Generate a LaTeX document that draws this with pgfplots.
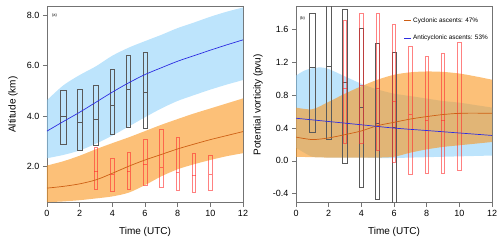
\documentclass[border=0pt]{standalone}
\usepackage{fontspec}
\setmainfont{Liberation Sans}
\usepackage{pgfplots}
\pgfplotsset{compat=1.18}
\usepgfplotslibrary{fillbetween,statistics}

\definecolor{bandblue}{RGB}{135,206,250}
\definecolor{bandorange}{RGB}{250,150,30}
\definecolor{lineblue}{RGB}{45,45,225}
\definecolor{lineorange}{RGB}{205,95,20}
\definecolor{boxred}{RGB}{255,45,45}

\pgfplotsset{
  panel/.style={
    width=196pt, height=196pt, scale only axis,
    xmin=0, xmax=12, xtick={0,2,...,12},
    tick align=outside, tick pos=left,
    major tick length=4pt,
    axis line style={draw=black!55, line width=0.6pt},
    every tick/.style={draw=black!55, line width=0.6pt},
    tick label style={font=\fontsize{9}{10}\selectfont},
    label style={font=\fontsize{10.5}{12}\selectfont},
    /pgf/number format/assume math mode=true,
    yticklabel style={/pgf/number format/fixed, /pgf/number format/fixed zerofill, /pgf/number format/precision=1},
    xlabel={Time (UTC)},
    every axis x label/.style={at={(axis description cs:0.5,-0.148)}, anchor=center},
    boxplot/draw direction=y,
  },
  blackbox/.style={draw=black!65, line width=0.45pt, solid, mark=none, forget plot},
  redbox/.style={draw=boxred, draw opacity=0.6, line width=0.5pt, solid, mark=none, forget plot},
}
% box: position, lower, median, upper, width
\newcommand{\bbox}[5]{\addplot[blackbox, boxplot prepared={draw direction=y, draw position=#1, lower whisker=#2, lower quartile=#2, median=#3, upper quartile=#4, upper whisker=#4, box extend=#5, whisker extend=0}] coordinates {};}
\newcommand{\rbox}[5]{\addplot[redbox, boxplot prepared={draw direction=y, draw position=#1, lower whisker=#2, lower quartile=#2, median=#3, upper quartile=#4, upper whisker=#4, box extend=#5, whisker extend=0}] coordinates {};}

\begin{document}
\begin{tikzpicture}
% ---------------- (a) altitude ----------------
\begin{axis}[panel,
  ymin=0.55, ymax=8.35, ytick={2,4,6,8},
  ylabel={Altitude (km)},
  every axis y label/.style={at={(axis description cs:-0.173,0.5)}, rotate=90, anchor=center},
]
\addplot[name path=AU, draw=none, smooth, forget plot] coordinates {(0,4.63)(1,5.22)(2,5.63)(3,5.98)(4,6.4)(5,6.72)(6,6.98)(7,7.23)(8,7.5)(9,7.72)(10,7.95)(11,8.15)(12,8.32)};
\addplot[name path=AL, draw=none, smooth, forget plot] coordinates {(0,2.32)(1,2.45)(2,2.63)(3,2.9)(4,3.22)(5,3.58)(6,3.95)(7,4.3)(8,4.6)(9,4.83)(10,5.05)(11,5.25)(12,5.43)};
\addplot[bandblue, fill opacity=0.55, draw=none, forget plot] fill between[of=AU and AL];
\addplot[name path=CU, draw=none, smooth, forget plot] coordinates {(0,2.03)(1,2.2)(2,2.42)(3,2.68)(4,2.92)(5,3.15)(6,3.4)(7,3.65)(8,3.88)(9,4.1)(10,4.3)(11,4.5)(12,4.7)};
\addplot[name path=CL, draw=none, smooth, forget plot] coordinates {(0,0.57)(1,0.6)(2,0.65)(3,0.72)(4,0.8)(5,0.95)(6,1.25)(7,1.6)(8,1.88)(9,2.08)(10,2.25)(11,2.4)(12,2.52)};
\addplot[bandorange, fill opacity=0.6, draw=none, forget plot] fill between[of=CU and CL];
% anticyclonic boxes
\bbox{1}{2.87}{3.99}{5.04}{0.36}
\bbox{2}{2.62}{3.77}{5.08}{0.34}
\bbox{3}{2.83}{3.89}{5.24}{0.30}
\bbox{4}{3.26}{4.42}{5.85}{0.26}
\bbox{5}{3.55}{5.08}{6.41}{0.24}
\bbox{6}{3.51}{4.96}{6.53}{0.22}
% cyclonic boxes
\rbox{3}{1.09}{1.79}{2.76}{0.2}
\rbox{4}{1.02}{1.70}{2.32}{0.2}
\rbox{5}{1.09}{1.81}{2.54}{0.22}
\rbox{6}{1.23}{2.07}{3.07}{0.22}
\rbox{7}{1.17}{1.96}{3.46}{0.22}
\rbox{8}{1.03}{1.77}{3.17}{0.22}
\rbox{9}{0.95}{1.64}{2.52}{0.2}
\rbox{10}{1.03}{1.68}{2.42}{0.2}
\addplot[lineorange, line width=0.7pt, smooth, forget plot] coordinates {(0,1.13)(1,1.2)(2,1.3)(3,1.46)(4,1.72)(5,2.0)(6,2.25)(7,2.47)(8,2.69)(9,2.88)(10,3.06)(11,3.22)(12,3.38)};
\addplot[lineblue, line width=0.7pt, smooth, forget plot] coordinates {(0,3.40)(1,3.78)(2,4.15)(3,4.55)(4,4.95)(5,5.32)(6,5.65)(7,5.92)(8,6.18)(9,6.4)(10,6.62)(11,6.83)(12,7.03)};
\node[font=\fontsize{4}{5}\selectfont, anchor=west, inner sep=0pt] at (rel axis cs:0.025,0.955) {(a)};
\end{axis}
% ---------------- (b) PV ----------------
\begin{axis}[panel, at={(249pt,0pt)}, anchor=south west,
  ymin=-0.51, ymax=1.88, ytick={-0.4,0,0.4,0.8,1.2,1.6},
  ylabel={Potential vorticity (pvu)},
  every axis y label/.style={at={(axis description cs:-0.194,0.5)}, rotate=90, anchor=center},
  legend style={at={(0.55,0.955)}, anchor=north west, draw=none, fill=none,
    font=\fontsize{6.4}{7}\selectfont, row sep=7pt, inner sep=0pt},
  legend cell align=left,
  legend image code/.code={\draw[#1] (0pt,0pt) -- (6.5pt,0pt);},
]
\addplot[name path=BU, draw=none, smooth, forget plot] coordinates {(0,1.04)(0.5,1.1)(1,1.13)(1.5,1.14)(2,1.12)(3,1.03)(4,0.94)(5,0.87)(6,0.82)(7,0.79)(8,0.76)(9,0.73)(10,0.71)(11,0.68)(12,0.65)};
\addplot[name path=BL, draw=none, smooth, forget plot] coordinates {(0,0.16)(0.5,0.1)(1,0.05)(1.5,0.045)(2,0.04)(3,0.04)(4,0.04)(5,0.035)(6,0.035)(7,0.04)(8,0.045)(9,0.05)(10,0.055)(11,0.06)(12,0.065)};
\addplot[bandblue, fill opacity=0.55, draw=none, forget plot] fill between[of=BU and BL];
\addplot[name path=OU, draw=none, smooth, forget plot] coordinates {(0,0.65)(1,0.63)(2,0.72)(3,0.82)(4,0.91)(5,0.99)(6,1.05)(7,1.08)(8,1.09)(9,1.085)(10,1.065)(11,1.03)(12,0.99)};
\addplot[name path=OL, draw=none, smooth, forget plot] coordinates {(0,0.05)(1,0.045)(2,0.04)(3,0.04)(4,0.04)(5,0.04)(6,0.05)(7,0.1)(8,0.14)(9,0.17)(10,0.19)(11,0.21)(12,0.23)};
\addplot[bandorange, fill opacity=0.6, draw=none, forget plot] fill between[of=OU and OL];
% anticyclonic boxes
\bbox{1}{0.35}{1.14}{1.80}{0.33}
\bbox{2}{0.26}{1.16}{1.95}{0.32}
\bbox{3}{-0.03}{0.96}{1.85}{0.28}
\bbox{4}{-0.32}{0.65}{1.62}{0.25}
\bbox{5}{-0.47}{0.46}{1.44}{0.24}
\bbox{6}{-0.60}{0.415}{1.33}{0.24}
% cyclonic boxes
\rbox{3}{0.21}{0.89}{1.72}{0.2}
\rbox{4}{0.21}{0.92}{1.80}{0.2}
\rbox{5}{0.13}{0.88}{1.80}{0.2}
\rbox{6}{-0.02}{0.73}{1.67}{0.2}
\rbox{7}{-0.16}{0.57}{1.395}{0.2}
\rbox{8}{-0.145}{0.50}{1.27}{0.2}
\rbox{9}{-0.145}{0.49}{1.31}{0.2}
\rbox{10}{-0.12}{0.58}{1.45}{0.2}
\addplot[lineorange, line width=0.7pt, smooth, forget plot] coordinates {(0,0.29)(1,0.26)(2,0.28)(3,0.32)(4,0.365)(5,0.43)(6,0.47)(7,0.51)(8,0.54)(9,0.565)(10,0.58)(11,0.582)(12,0.58)};
\addplot[lineblue, line width=0.7pt, smooth, forget plot] coordinates {(0,0.52)(2,0.48)(4,0.44)(6,0.40)(8,0.37)(10,0.34)(12,0.31)};
\addlegendimage{lineorange, line width=0.7pt}
\addlegendentry{Cyclonic ascents: 47\%}
\addlegendimage{lineblue, line width=0.7pt}
\addlegendentry{Anticyclonic ascents: 53\%}
\node[font=\fontsize{4}{5}\selectfont, anchor=west, inner sep=0pt] at (rel axis cs:0.02,0.94) {(b)};
\end{axis}
\pgfresetboundingbox
\path[use as bounding box] (-47pt,-42.3pt) rectangle (453pt,202.7pt);
\end{tikzpicture}
\end{document}
